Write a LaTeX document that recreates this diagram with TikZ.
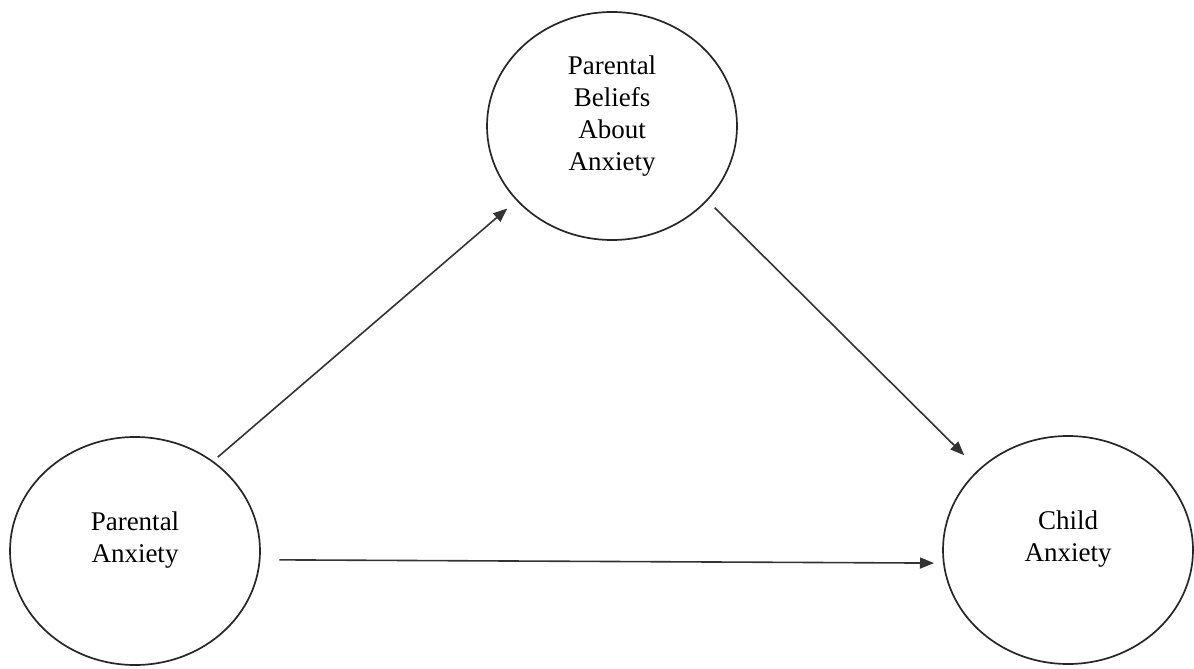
\documentclass[tikz,border=0pt]{standalone}
\usepackage{fontspec}
\setmainfont{Liberation Serif}
\usetikzlibrary{shapes.geometric,arrows.meta}
\begin{document}
\begin{tikzpicture}[x=1pt,y=-1pt,
  circ/.style={ellipse,draw=black!85,line width=1.7pt,minimum width=250pt,minimum height=228pt,inner sep=0pt},
  lbl/.style={align=center,font=\fontsize{27}{32}\selectfont,text=black},
  arr/.style={draw=black!80,line width=1.6pt,-{Triangle[length=14pt,width=11pt]}}]
\useasboundingbox (0,0) rectangle (1194,669);
\node[circ] (pb) at (612,126) {};
\node[circ] (pa) at (135,551) {};
\node[circ] (ca) at (1068,550) {};
\node[lbl] (pbt) at ([yshift=10pt]pb.center) {Parental\\Beliefs\\About\\Anxiety};
\node[lbl] (pat) at ([yshift=11pt]pa.center) {Parental\\Anxiety};
\node[lbl] (cat) at ([yshift=11pt]ca.center) {Child\\Anxiety};
\draw[arr,shorten <=6pt,shorten >=12pt] (pa.49) -- (pb.218.6);
\draw[arr,shorten <=10pt,shorten >=20pt] (pb.-38.2) -- (ca.138.2);
\draw[arr,shorten <=19pt,shorten >=9pt] (pa.-4.4) -- (ca.186.9);
\end{tikzpicture}
\end{document}
